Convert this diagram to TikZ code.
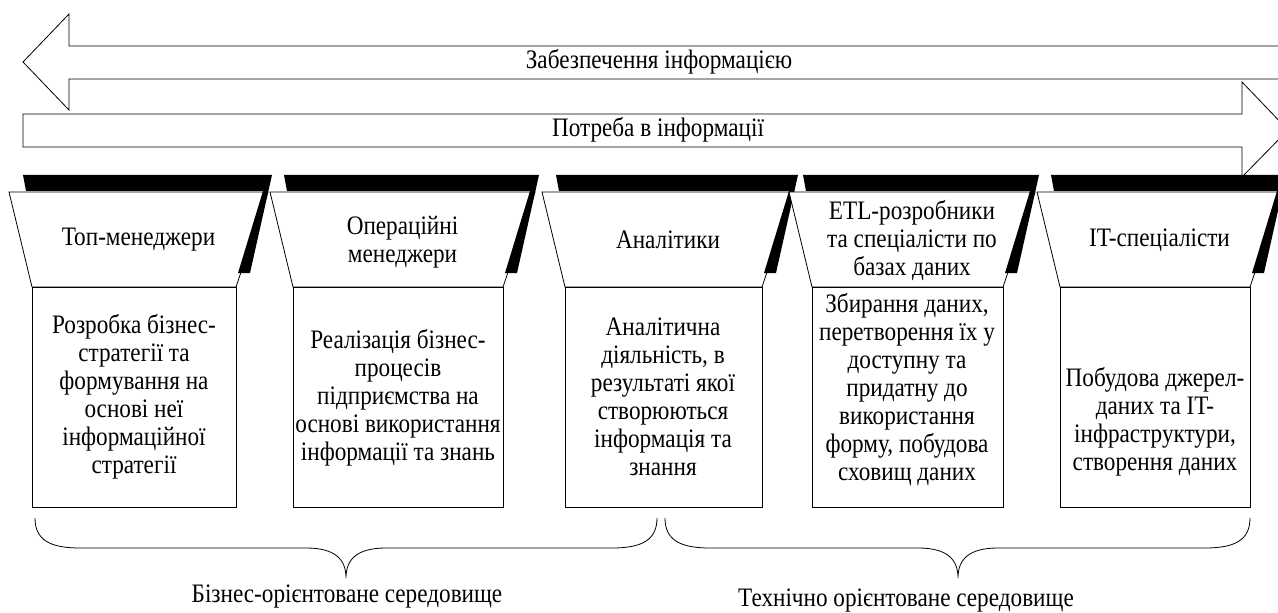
\documentclass[tikz,border=0pt]{standalone}
\usepackage{fontspec}
\setmainfont[FakeStretch=0.87]{Liberation Serif}

\begin{document}
\begin{tikzpicture}[x=0.75pt,y=-0.75pt,
  lbl/.style={font=\fontsize{20}{21}\selectfont, align=center, inner sep=0pt},
  outl/.style={draw, fill=white, line width=0.6pt},
  brace/.style={draw, line width=0.6pt}]
\useasboundingbox (0,0) rectangle (1278,613);
\clip (0,0) rectangle (1278,613);
% two wide arrows
\draw[outl] (23,62) -- (69,14) -- (69,46) -- (1290,46) -- (1290,79) -- (69,79) -- (69,110) -- cycle;
\draw[outl] (23,114) -- (1242,114) -- (1242,82) -- (1288,130) -- (1242,177) -- (1242,147) -- (23,147) -- cycle;
\node[lbl] (supply) at (659,62) {Забезпечення інформацією};
\node[lbl] (need) at (658,130) {Потреба в інформації};
% funnels with their task boxes
\foreach \l/\r in {32/236, 293/503, 565/762, 812/1003, 1060/1250}{
  \draw[outl] (\l-23,192) -- (\r+32,192) -- (\r,287) -- (\l,287) -- cycle;
  \fill (\l-9,175) -- (\r+36,175) -- (\r+14,273) -- (\r+2,273) -- (\r+27,191) -- (\l-6,191) -- cycle;
  \draw[outl] (\l,287) rectangle (\r,507);
}
\node[lbl] (top1) at (138.5,240) {Топ-менеджери};
\node[lbl] (top2) at (402.5,242) {Операційні\\менеджери};
\node[lbl] (top3) at (668,240) {Аналітики};
\node[lbl] (top4) at (912,241) {ETL-розробники\\та спеціалісти по\\базах даних};
\node[lbl] (top5) at (1159.5,240) {IT-спеціалісти};
\node[lbl] (task1) at (134,397) {Розробка бізнес-\\стратегії та\\формування на\\основі неї\\інформаційної\\стратегії};
\node[lbl] (task2) at (398,398) {Реалізація бізнес-\\процесів\\підприємства на\\основі використання\\інформації та знань};
\node[lbl] (task3) at (663,397) {Аналітична\\діяльність, в\\результаті якої\\створюються\\інформація та\\знання};
\node[lbl] (task4) at (907,390) {Збирання даних,\\перетворення їх у\\доступну та\\придатну до\\використання\\форму, побудова\\сховищ даних};
\node[lbl] (task5) at (1155,422) {Побудова джерел-\\даних та IT-\\інфраструктури,\\створення даних};
% braces
\draw[brace] (35,518) .. controls (35,540) and (50,548) .. (80,548) -- (306,548)
  .. controls (336,548) and (346,560) .. (346,578) .. controls (346,560) and (356,548) .. (386,548)
  -- (612,548) .. controls (642,548) and (657,540) .. (657,518);
\draw[brace] (665,518) .. controls (665,540) and (680,548) .. (710,548) -- (918,548)
  .. controls (948,548) and (958,560) .. (958,578) .. controls (958,560) and (968,548) .. (998,548)
  -- (1205,548) .. controls (1235,548) and (1250,540) .. (1250,518);
\node[lbl] (env1) at (347,597) {Бізнес-орієнтоване середовище};
\node[lbl] (env2) at (906,601) {Технічно орієнтоване середовище};
\end{tikzpicture}
\end{document}
